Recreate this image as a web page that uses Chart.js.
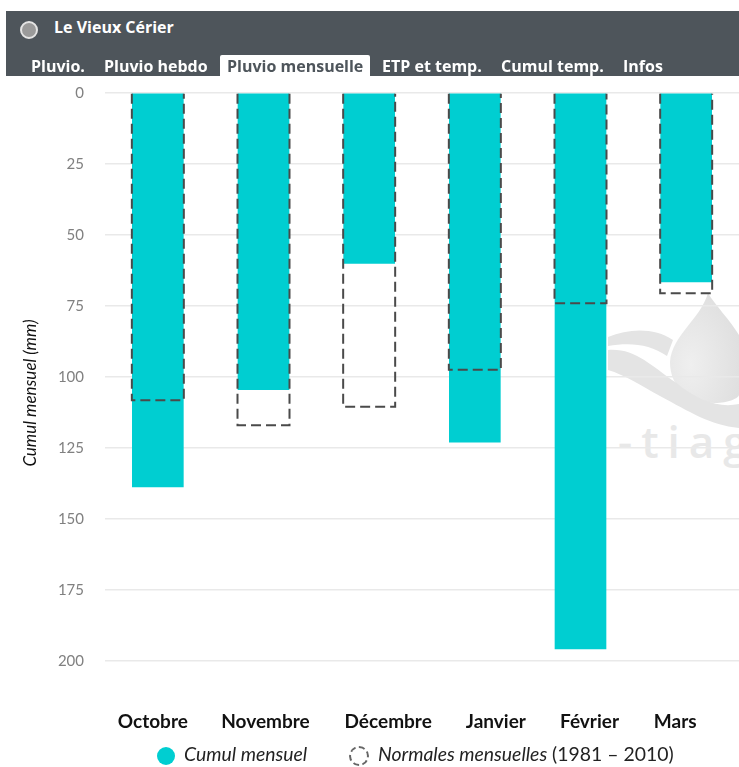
<!DOCTYPE html>
<html lang="fr"><head><meta charset="utf-8">
<style>
html,body{margin:0;padding:0;background:#fff;width:739px;height:767px;overflow:hidden}
#wrap{position:relative;width:739px;height:767px;font-family:"Open Sans",sans-serif}
#band{position:absolute;left:6px;top:11px;width:733px;height:65px;background:#4e555b}
#dot{position:absolute;left:20px;top:21px;width:14px;height:14px;border-radius:50%;background:#9a9a9a;border:2px solid #e4e4e4}
.h{position:absolute;color:#fff;font-weight:700;font-size:16px;line-height:20px;white-space:nowrap}
#tab{position:absolute;left:220px;top:55px;width:150px;height:21px;background:#fff;border-radius:2px 2px 0 0}
#wm{position:absolute;left:0;top:0}
canvas{position:absolute;left:0;top:0}
#leg{position:absolute;left:0;top:741px;font-family:"Lato",sans-serif;font-size:19.4px;line-height:26px;color:#222;white-space:nowrap}
#leg span{position:absolute;top:0}
#c1{position:absolute;left:157px;top:747px;width:18px;height:18px;border-radius:50%;background:#00ced1}
#c2{position:absolute;left:349px;top:746px;width:16px;height:16px;border-radius:50%;border:2px dashed #666;box-sizing:content-box}
</style></head><body>
<div id="wrap">
<svg id="wm" width="739" height="767" viewBox="0 0 739 767">
 <defs><radialGradient id="g" cx="0.3" cy="0.65" r="0.8"><stop offset="0" stop-color="#efefef"/><stop offset="1" stop-color="#dedede"/></radialGradient></defs>
 <path d="M708 293C700 320 672 335 670 362C670 388 690 403 715 403C728 403 739 398 739 395V335C730 320 715 305 708 293Z" fill="url(#g)"/>
 <path d="M608 337C630 328 655 328 673 340L667 356C650 344 630 342 608 346Z" fill="#e4e4e4"/>
 <path d="M608 350C635 348 650 365 675 382C700 402 720 408 739 404V428C710 425 690 412 660 396C640 385 625 375 608 370Z" fill="#e4e4e4"/>
 <text x="618" y="458" font-family="Open Sans,sans-serif" font-weight="600" font-size="44" letter-spacing="9" fill="#e8e8e8">-tiag</text>
</svg>
<canvas id="chart" width="739" height="767"></canvas>
<div id="band"></div><div id="dot"></div>
<div class="h" style="left:54px;top:17px">Le Vieux Cérier</div>
<div id="tab"></div>
<div class="h" style="left:31px;top:56px">Pluvio.</div>
<div class="h" style="left:104px;top:56px">Pluvio hebdo</div>
<div class="h" style="left:227px;top:56px;color:#4e555b">Pluvio mensuelle</div>
<div class="h" style="left:382px;top:56px">ETP et temp.</div>
<div class="h" style="left:501px;top:56px">Cumul temp.</div>
<div class="h" style="left:623px;top:56px">Infos</div>
<div id="c1"></div><div id="c2"></div>
<div id="leg"><span style="left:184px"><i>Cumul mensuel</i></span><span style="left:378px"><i>Normales mensuelles</i> (1981 – 2010)</span></div>
</div>
<script src="https://cdn.jsdelivr.net/npm/chart.js@4"></script>
<script>
const categories = ["Octobre","Novembre","Décembre","Janvier","Février","Mars"];
const cumulMensuel = [138.7,104.5,60,123,195.8,66.5];
const normalesMensuelles = [108.2,117,110.5,97.5,74,70.5];
const yTicks = [0,25,50,75,100,125,150,175,200];

const dashedBars = {
  id:'dashedBars',
  afterDatasetsDraw(chart){
    const {ctx} = chart;
    chart.getDatasetMeta(1).data.forEach(b=>{
      const l = b.x-b.width/2, r = b.x+b.width/2;
      ctx.save();
      ctx.strokeStyle = '#4a4a4a';
      ctx.lineWidth = 2;
      ctx.setLineDash([10,5]);
      ctx.beginPath();
      ctx.moveTo(l,b.base);ctx.lineTo(l,b.y);ctx.lineTo(r,b.y);ctx.lineTo(r,b.base);
      ctx.stroke();
      ctx.restore();
    });
  }
};

/* the month labels of the reference sit off-centre from their bars */
const monthLabelOffsets = {
  id:'monthLabelOffsets',
  afterDataLimits(chart,args){
    if(args.scale.axis!=='x'||args.scale._nudged) return;
    const s=args.scale, base=s.getPixelForTick.bind(s), nudge=[-5,2,19,21,9,-11];
    s.getPixelForTick=i=>base(i)+(nudge[i]||0);
    s._nudged=true;
  }
};

new Chart(document.getElementById('chart'),{
  type:'bar',
  data:{labels:categories,datasets:[
    {label:'Cumul mensuel',data:cumulMensuel,backgroundColor:'#00ced1',borderWidth:0,order:1,barThickness:51},
    {label:'Normales mensuelles',data:normalesMensuelles,backgroundColor:'rgba(0,0,0,0)',borderWidth:0,order:0,barThickness:52}
  ]},
  options:{
    responsive:false,animation:false,
    layout:{padding:{top:93,right:-2,bottom:0,left:0}},
    datasets:{bar:{grouped:false}},
    plugins:{legend:{display:false},tooltip:{enabled:false}},
    scales:{
      x:{
        position:'bottom',
        afterFit(s){s.height=74},
        grid:{display:false},border:{display:false},
        ticks:{color:'#111',padding:9,maxRotation:0,autoSkip:false,font:{family:'"Lato",sans-serif',size:19,weight:'700'}}
      },
      y:{
        reverse:true,min:0,max:211.3,
        afterFit(s){s.width=105},
        afterBuildTicks(s){s.ticks=yTicks.map(v=>({value:v}))},
        border:{display:false},
        grid:{color:'#e9e9e9',lineWidth:1.5,tickLength:0,drawTicks:false},
        ticks:{color:'#808080',padding:21,font:{family:'"Lato",sans-serif',size:15}},
        title:{display:true,text:'Cumul mensuel (mm)',color:'#111',padding:{top:20,bottom:0},font:{family:'"Lato",sans-serif',size:17,style:'italic'}}
      }
    }
  },
  plugins:[dashedBars,monthLabelOffsets]
});
</script>
</body></html>
